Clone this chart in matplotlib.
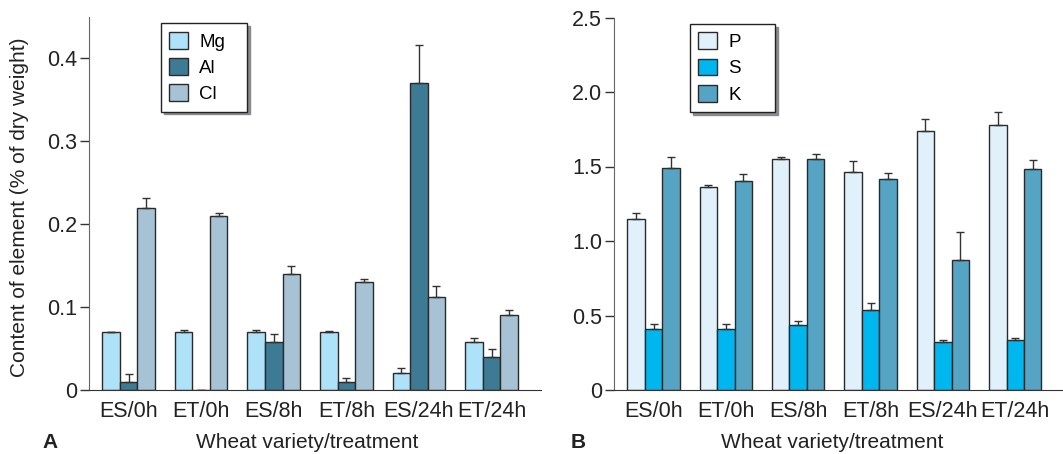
import numpy as np
import matplotlib
matplotlib.use('Agg')
import matplotlib.pyplot as plt

plt.rcParams['font.family'] = ['Liberation Sans', 'DejaVu Sans']

groups = ['ES/0h', 'ET/0h', 'ES/8h', 'ET/8h', 'ES/24h', 'ET/24h']

# panel A
mg = [0.070, 0.070, 0.070, 0.070, 0.020, 0.058]
mg_err = [0.0, 0.002, 0.002, 0.001, 0.007, 0.005]
al = [0.010, 0.0, 0.058, 0.010, 0.370, 0.040]
al_err = [0.009, 0.0, 0.009, 0.004, 0.046, 0.009]
cl = [0.220, 0.210, 0.140, 0.130, 0.112, 0.090]
cl_err = [0.012, 0.004, 0.010, 0.004, 0.014, 0.007]

# panel B
p = [1.15, 1.36, 1.55, 1.46, 1.74, 1.78]
p_err = [0.04, 0.013, 0.013, 0.075, 0.077, 0.085]
s = [0.41, 0.41, 0.434, 0.54, 0.32, 0.334]
s_err = [0.034, 0.034, 0.031, 0.047, 0.018, 0.017]
k = [1.49, 1.405, 1.55, 1.414, 0.87, 1.48]
k_err = [0.072, 0.045, 0.036, 0.044, 0.188, 0.063]

colors_a = ['#aee2f8', '#3d7a93', '#a6c2d4']
colors_b = ['#e1f1fb', '#00b6ee', '#56a4c4']

fig = plt.figure(figsize=(10.63, 4.54), dpi=100)
ax1 = fig.add_axes([89 / 1063, 64 / 454, 452 / 1063, 373 / 454])
ax2 = fig.add_axes([614 / 1063, 64 / 454, 449 / 1063, 372.5 / 454])

x = np.arange(len(groups))
w = 0.241


def draw_panel(ax, series, errs, names, colors, ylim, yticks, yticklabels, xlim, leg_x):
    for i, (vals, err, name, c) in enumerate(zip(series, errs, names, colors)):
        pos = x + (i - 1) * w
        ax.bar(pos, vals, w, color=c, edgecolor='#2a2a2a', linewidth=1, label=name, zorder=2)
        ax.errorbar(pos, vals, yerr=[np.zeros(len(err)), err], fmt='none',
                    ecolor='#333333', elinewidth=1, capsize=3, capthick=1, zorder=3)
    ax.set_xlim(*xlim)
    ax.set_ylim(*ylim)
    ax.set_yticks(yticks)
    ax.set_yticklabels(yticklabels)
    ax.set_xticks(x)
    ax.set_xticklabels(groups)
    ax.tick_params(axis='x', length=0, pad=8, labelsize=15.5, labelcolor='#222222')
    ax.tick_params(axis='y', length=6.5, width=1, pad=2, labelsize=15.5, color='#333333',
                   labelcolor='#222222')
    for sp in ['top', 'right']:
        ax.spines[sp].set_visible(False)
    ax.spines['left'].set_color('#666666')
    ax.spines['bottom'].set_color('#333333')
    leg = ax.legend(loc='upper left', bbox_to_anchor=(leg_x, 0.745, 0.19, 0.238),
                    mode='expand', alignment='center', fontsize=13.5,
                    handlelength=1.0, handleheight=1.0, handletextpad=0.6,
                    labelspacing=0.4, borderpad=0.45, borderaxespad=0,
                    fancybox=False, shadow={'color': '#8a8a8e', 'alpha': 1})
    leg.get_frame().set_edgecolor('#222222')
    leg.get_frame().set_linewidth(1)
    leg.get_frame().set_alpha(1)


draw_panel(ax1, [mg, al, cl], [mg_err, al_err, cl_err], ['Mg', 'Al', 'Cl'], colors_a,
           (0, 0.45), [0, 0.1, 0.2, 0.3, 0.4], ['0', '0.1', '0.2', '0.3', '0.4'],
           (-0.544, 5.68), 0.159)
draw_panel(ax2, [p, s, k], [p_err, s_err, k_err], ['P', 'S', 'K'], colors_b,
           (0, 2.5), [0, 0.5, 1.0, 1.5, 2.0, 2.5], ['0', '0.5', '1.0', '1.5', '2.0', '2.5'],
           (-0.546, 5.66), 0.169)

fig.text(20 / 1063, 1 - 207 / 454, 'Content of element (% of dry weight)', rotation=90,
         ha='center', va='center', fontsize=15, color='#222222')
fig.text(307 / 1063, 1 - 443 / 454, 'Wheat variety/treatment', ha='center', va='center',
         fontsize=15, color='#222222')
fig.text(832 / 1063, 1 - 443 / 454, 'Wheat variety/treatment', ha='center', va='center',
         fontsize=15, color='#222222')
fig.text(50 / 1063, 1 - 443 / 454, 'A', ha='center', va='center', fontsize=15,
         fontweight='bold', color='#222222')
fig.text(578 / 1063, 1 - 443 / 454, 'B', ha='center', va='center', fontsize=15,
         fontweight='bold', color='#222222')

fig.savefig('out.png', dpi=100)
